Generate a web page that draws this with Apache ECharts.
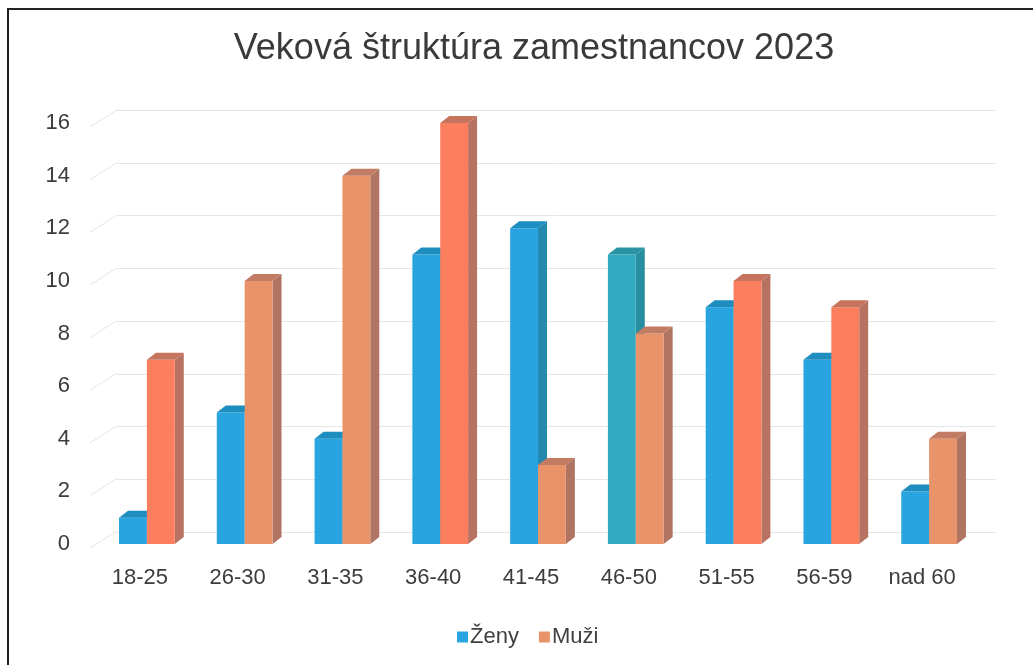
<!DOCTYPE html>
<html>
<head>
<meta charset="utf-8">
<script src="https://cdn.jsdelivr.net/npm/echarts@6/dist/echarts.min.js"></script>
<style>
html,body{margin:0;padding:0;background:#fff;}
#chart{width:1033px;height:665px;}
</style>
</head>
<body>
<div id="chart"></div>
<script>
const titleText = 'Veková štruktúra zamestnancov 2023';
const categories = ['18-25','26-30','31-35','36-40','41-45','46-50','51-55','56-59','nad 60'];
const zeny = [1,5,4,11,12,11,9,7,2];
const muzi = [7,10,14,16,3,8,10,9,4];
const yTicks = [0,2,4,6,8,10,12,14,16];

// per-bar colour tones as they appear in the scan (style only)
const zenyFront = ['#28a5e0','#28a5e0','#28a5e0','#28a5e0','#28a5e0','#34aac2','#28a5e0','#28a5e0','#28a5e0'];
const zenySide  = ['#1f88b8','#1f88b8','#1f88b8','#1f88b8','#2589ae','#278fa0','#1f88b8','#1f88b8','#1f88b8'];
const muziFront = ['#fb7e5e','#e9936a','#e9936a','#fb7e5e','#e9936a','#e9936a','#fb7e5e','#fb7e5e','#e9936a'];
const muziSide  = ['#b77262','#b07562','#b07562','#b77262','#b07562','#b07562','#b77262','#b77262','#b07562'];
const muziTop   = ['#c7745f','#c27c63','#c27c63','#c7745f','#c27c63','#c27c63','#c7745f','#c7745f','#c27c63'];
const zenyTop   = ['#1e8dbf','#1e8dbf','#1e8dbf','#1e8dbf','#1e8dbf','#2a93a5','#1e8dbf','#1e8dbf','#1e8dbf'];

const DX = 9, DY = -7;

function makeRender(isLeft, front, side, topc) {
  return function (params, api) {
    const i = api.value(0), v = api.value(1);
    const base = api.coord([i, 0]);
    const top = api.coord([i, v]);
    const bw = api.size([1, 0])[0] * 0.285;
    const x0 = isLeft ? base[0] - bw : base[0];
    const x1 = x0 + bw;
    const yt = top[1], yb = base[1];
    const idx = params.dataIndex;
    return {
      type: 'group',
      children: [
        { type: 'polygon', shape: { points: [[x1, yt], [x1 + DX, yt + DY], [x1 + DX, yb + DY], [x1, yb]] }, style: { fill: side[idx] } },
        { type: 'rect', shape: { x: x0, y: yt, width: bw, height: yb - yt }, style: { fill: front[idx] } },
        { type: 'polygon', shape: { points: [[x0, yt], [x0 + DX, yt + DY], [x1 + DX, yt + DY], [x1, yt]] }, style: { fill: topc[idx] } }
      ]
    };
  };
}

const chart = echarts.init(document.getElementById('chart'));
const font = 'Liberation Sans, Arial, sans-serif';
chart.setOption({
  backgroundColor: '#fff',
  animation: false,
  title: {
    text: titleText, left: 529, top: 26, textAlign: 'center',
    textStyle: { fontFamily: font, fontSize: 36, fontWeight: 'normal', color: '#3a3a3a' }
  },
  legend: {
    data: ['Ženy', 'Muži'], left: 452, top: 621, itemWidth: 11, itemHeight: 11, itemGap: 20,
    icon: 'rect',
    textStyle: { fontFamily: font, fontSize: 22, color: '#404040', padding: [0, 0, 0, -3] }
  },
  graphic: [
    { type: 'rect', shape: { x: 8, y: 9, width: 1040, height: 680 }, style: { fill: 'none', stroke: '#222', lineWidth: 2 }, z: 100 }
  ],
  grid: [
    { left: 117, right: 37, top: 110, bottom: 133 },
    { left: 98, right: 55, top: 123, bottom: 121 }
  ],
  xAxis: [
    { gridIndex: 0, type: 'value', show: false, min: 0, max: 1 },
    { gridIndex: 1, type: 'category', data: categories,
      axisLine: { show: false }, axisTick: { show: false },
      axisLabel: { fontFamily: font, fontSize: 22, color: '#3c3c3c', margin: 23, padding: [0, 14, 0, 0] } }
  ],
  yAxis: [
    { gridIndex: 0, type: 'value', min: 0, max: 16, interval: 2,
      axisLabel: { show: false }, axisLine: { show: false }, axisTick: { show: false },
      splitLine: { lineStyle: { color: '#e6e6e6', width: 1 } } },
    { gridIndex: 1, type: 'value', min: 0, max: 16, interval: 2,
      axisLine: { show: false }, axisTick: { show: false }, splitLine: { show: false },
      axisLabel: { fontFamily: font, fontSize: 22, color: '#3c3c3c', margin: 28 } }
  ],
  series: [
    {
      type: 'custom', name: 'diag', xAxisIndex: 1, yAxisIndex: 1, silent: true,
      data: yTicks.map(v => [0, v]),
      encode: { x: 0, y: 1 },
      renderItem: function (params, api) {
        const p = api.coord([0, api.value(1)]);
        const half = api.size([1, 0])[0] / 2;
        const xl = p[0] - half - 8;
        return { type: 'line', shape: { x1: xl, y1: p[1] + 4, x2: xl + 27, y2: p[1] - 13 }, style: { stroke: '#e6e6e6', lineWidth: 1 } };
      },
      z: 1
    },
    {
      type: 'custom', name: 'Ženy', xAxisIndex: 1, yAxisIndex: 1,
      itemStyle: { color: '#28a5e0' },
      data: zeny.map((v, i) => [i, v]),
      encode: { x: 0, y: 1 },
      renderItem: makeRender(true, zenyFront, zenySide, zenyTop), z: 2
    },
    {
      type: 'custom', name: 'Muži', xAxisIndex: 1, yAxisIndex: 1,
      itemStyle: { color: '#e9936a' },
      data: muzi.map((v, i) => [i, v]),
      encode: { x: 0, y: 1 },
      renderItem: makeRender(false, muziFront, muziSide, muziTop), z: 3
    }
  ]
});
</script>
</body>
</html>
